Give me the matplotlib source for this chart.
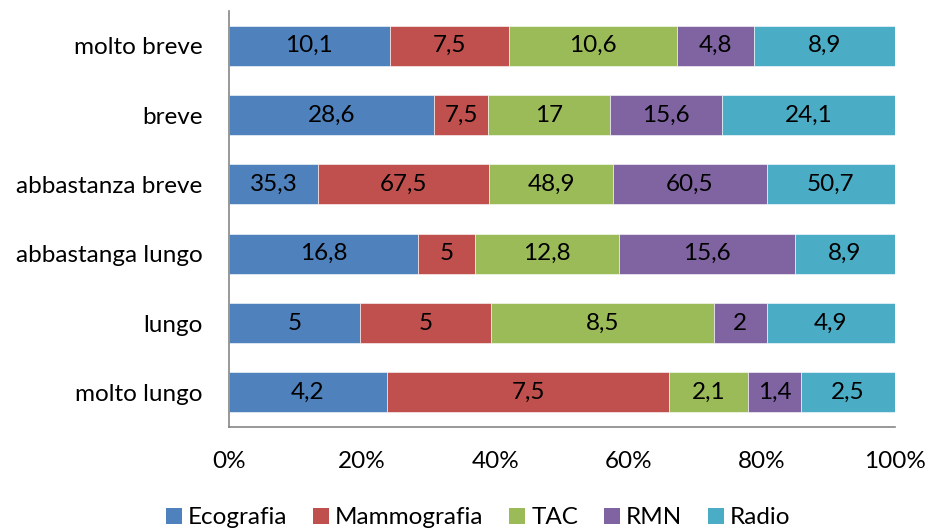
import matplotlib
matplotlib.use("Agg")
import matplotlib.pyplot as plt
import numpy as np
from matplotlib.patches import Patch

categories = ["molto breve", "breve", "abbastanza breve", "abbastanga lungo", "lungo", "molto lungo"]
series_names = ["Ecografia", "Mammografia", "TAC", "RMN", "Radio"]
ecografia = [10.1, 28.6, 35.3, 16.8, 5, 4.2]
mammografia = [7.5, 7.5, 67.5, 5, 5, 7.5]
tac = [10.6, 17, 48.9, 12.8, 8.5, 2.1]
rmn = [4.8, 15.6, 60.5, 15.6, 2, 1.4]
radio = [8.9, 24.1, 50.7, 8.9, 4.9, 2.5]
value_labels = [
    ["10,1", "28,6", "35,3", "16,8", "5", "4,2"],
    ["7,5", "7,5", "67,5", "5", "5", "7,5"],
    ["10,6", "17", "48,9", "12,8", "8,5", "2,1"],
    ["4,8", "15,6", "60,5", "15,6", "2", "1,4"],
    ["8,9", "24,1", "50,7", "8,9", "4,9", "2,5"],
]
colors = ["#4F81BD", "#C0504D", "#9BBB59", "#8064A2", "#4BACC6"]
x_ticks = [0, 20, 40, 60, 80, 100]

plt.rcParams["font.family"] = ["Lato", "DejaVu Sans"]
FS = 17.5

fig = plt.figure(figsize=(9.28, 5.29), dpi=100)
ax = fig.add_axes([229 / 928, 1 - 427 / 529, (895 - 229) / 928, (427 - 11) / 529])

data = np.array([ecografia, mammografia, tac, rmn, radio], dtype=float)
totals = data.sum(axis=0)
shares = data / totals * 100
y = np.arange(len(categories))
left = np.zeros(len(categories))
for i, name in enumerate(series_names):
    ax.barh(y, shares[i], left=left, height=0.58, color=colors[i],
            edgecolor="white", linewidth=0.4, label=name)
    for j in range(len(categories)):
        ax.text(left[j] + shares[i][j] / 2, y[j], value_labels[i][j],
                ha="center", va="center", fontsize=FS, color="black")
    left += shares[i]

ax.set_ylim(len(categories) - 0.5, -0.5)
ax.set_xlim(0, 100)
ax.set_yticks(y)
ax.set_yticklabels(categories, fontsize=FS)
ax.set_xticks(x_ticks)
ax.set_xticklabels([f"{t}%" for t in x_ticks], fontsize=FS)
ax.tick_params(axis="both", length=0)
ax.tick_params(axis="y", pad=19)
ax.tick_params(axis="x", pad=17)
for side in ["top", "right"]:
    ax.spines[side].set_visible(False)
for side in ["left", "bottom"]:
    ax.spines[side].set_color("#868686")
    ax.spines[side].set_linewidth(1.2)

handles = [Patch(facecolor=c, edgecolor="none") for c in colors]
fig.legend(handles, series_names, loc="center", bbox_to_anchor=(478 / 928, 1 - 518 / 529),
           ncol=5, frameon=False, fontsize=FS, handlelength=0.66, handleheight=0.66,
           handletextpad=0.25, columnspacing=1.05)

fig.savefig("out.png", dpi=100)
